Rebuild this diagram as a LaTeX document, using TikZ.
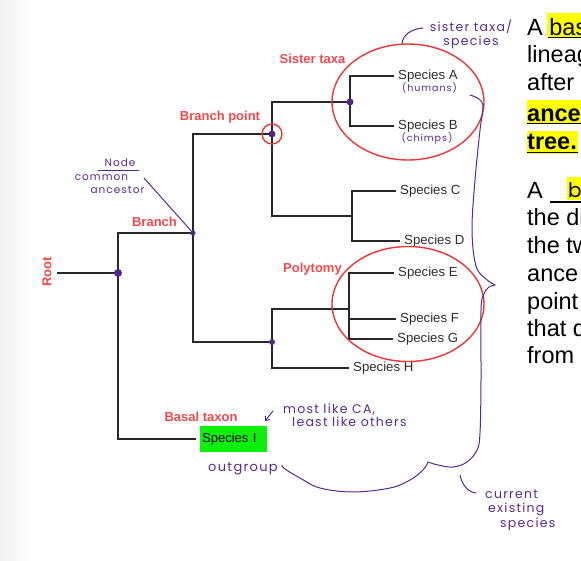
\documentclass[tikz,border=0pt]{standalone}
\usepackage{fontspec}
\setmainfont{Liberation Sans}
\newfontfamily\hand[LetterSpace=10]{Poppins}
\newfontfamily\handplain{Poppins}
\usetikzlibrary{shapes.geometric,arrows.meta}
\definecolor{labc}{RGB}{240,72,76}
\definecolor{ellc}{RGB}{238,52,52}
\definecolor{purp}{RGB}{84,42,150}
\definecolor{dotc}{RGB}{82,40,140}
\definecolor{treec}{RGB}{40,40,40}
\definecolor{spec}{RGB}{45,45,45}
\definecolor{hlc}{RGB}{255,255,0}
\definecolor{grn}{RGB}{10,240,10}
\begin{document}
\begin{tikzpicture}[x=1pt,y=-1pt,
  br/.style={draw=treec, line width=1.3pt},
  sp/.style={anchor=west, inner xsep=4pt, inner ysep=1pt, font=\fontsize{13.2}{15}\selectfont, text=spec},
  lab/.style={font=\bfseries\fontsize{13}{15}\selectfont, text=labc, inner sep=0},
  hw/.style={font=\hand\fontsize{12.5}{14}\selectfont, text=purp, inner sep=0},
  hws/.style={font=\hand\fontsize{10.5}{12.5}\selectfont, text=purp, inner sep=0},
  pen/.style={draw=purp, line width=1pt, line cap=round},
  jdot/.style={circle, fill=dotc, inner sep=0, minimum size=#1},
  redring/.style={draw=ellc, line width=1.4pt},
  big/.style={font=\fontsize{23.5}{27}\selectfont, text=black, anchor=base west, inner sep=0},
  bigb/.style={font=\bfseries\fontsize{23.5}{27}\selectfont, text=black, anchor=base west, inner sep=0}]
\useasboundingbox (0,0) rectangle (581,560);
\clip (0,0) rectangle (581,560);
\shade[left color=black!6, right color=white] (0,0) rectangle (32,560);

% junctions
\coordinate (root0) at (57,273);
\coordinate (rootN) at (118,273);
\coordinate (brN) at (193,233);
\coordinate (bpN) at (272,134);
\coordinate (sisN) at (350,102);
\coordinate (cdN) at (352,216);
\coordinate (lowN) at (272,342);
\coordinate (polN) at (349,309);

% leaves
\node[sp] (spA) at (394,76) {Species A};
\node[sp] (spB) at (394,126) {Species B};
\node[sp] (spC) at (396,191) {Species C};
\node[sp] (spD) at (400,241) {Species D};
\node[sp] (spE) at (394,273) {Species E};
\node[sp] (spF) at (396,319) {Species F};
\node[sp] (spG) at (393,339) {Species G};
\node[sp] (spH) at (349,368) {Species H};
\node[anchor=west, fill=grn, minimum height=26pt, text width=63pt, inner xsep=2pt, font=\fontsize{13}{15}\selectfont, text=black] (spI) at (200,439) {Species I};

% branches
\draw[br] (root0) -- (rootN);
\draw[br] (rootN) |- (brN);
\draw[br] (rootN) |- ([xshift=-4pt]spI.west);
\draw[br] (brN) |- (bpN);
\draw[br] (brN) |- (lowN);
\draw[br] (bpN) |- (sisN);
\draw[br] (bpN) |- (cdN);
\draw[br] (sisN) |- (spA.west);
\draw[br] (sisN) |- (spB.west);
\draw[br] (cdN) |- (spC.west);
\draw[br] (cdN) |- (spD.west);
\draw[br] (lowN) |- (polN);
\draw[br] (lowN) |- (spH.west);
\draw[br] (polN) |- (spE.west);
\draw[br] (polN) |- (spF.west);
\draw[br] (polN) |- (spG.west);

% dots
\node[jdot=8pt] at (rootN) {};
\node[jdot=5pt] at (brN) {};
\node[jdot=7pt] at (bpN) {};
\node[jdot=7pt] at (sisN) {};
\node[jdot=6pt] at (lowN) {};

% red rings
\node[ellipse, redring, minimum width=152pt, minimum height=116pt] (sisEll) at (408,102) {};
\node[ellipse, redring, minimum width=152pt, minimum height=115pt] (polEll) at (408,304) {};
\node[circle, redring, minimum size=20pt, inner sep=0] (bpRing) at (bpN) {};

% red labels
\node[lab] (lSis) at (312.5,59) {Sister taxa};
\node[lab] (lBp) at (220,117) {Branch point};
\node[lab] (lBr) at (154.5,222) {Branch};
\node[lab] (lPol) at (312.5,269) {Polytomy};
\node[lab] (lBas) at (201,417) {Basal taxon};
\node[lab, rotate=90] (lRoot) at (47,272) {Root};

% purple handwriting
\node[hw, align=center] (sisTxt) at (471,34) {sister taxa/\\species};
\coordinate (sisHook) at (423,28);
\draw[pen] ([xshift=-6pt]sisEll.north) .. controls (403,35) and (411,29) .. (sisHook);
\node[hws, font=\hand\fontsize{9.5}{11}\selectfont] (hum) at (429.5,88) {(humans)};
\node[hws, font=\hand\fontsize{9.5}{11}\selectfont] (chi) at (427,138) {(chimps)};

\node[hws] (nodeTxt) at (120,163) {Node};
\draw[pen] (98,170) -- (139,170);
\node[hws] (comTxt) at (101.5,178) {common};
\node[hws] (ancTxt) at (117.5,190) {ancestor};
\coordinate (nodeLine) at (144,178);
\draw[pen] (nodeLine) -- (brN);

\node[hw, anchor=west] (most1) at (283,410) {most like CA,};
\node[hw, anchor=west] (most2) at (292,422) {least like others};
\coordinate (arrS) at (273,411);
\coordinate (arrE) at (265,421);
\draw[pen, -{Straight Barb[length=3.5pt,width=6pt]}] (arrS) -- (arrE);

\node[hw, font=\hand\fontsize{13}{15}\selectfont] (outg) at (243,469) {outgroup};

\node[hw, anchor=west] (cur1) at (485,494) {current};
\node[hw, anchor=west] (cur2) at (488,509) {existing};
\node[hw, anchor=west] (cur3) at (500,524) {species};
\coordinate (curA) at (460,475);
\coordinate (curB) at (476,493);
\draw[pen] (curA) .. controls (462,485) and (468,492) .. (curB);

% big brace
\draw[pen, line join=round] plot[smooth, tension=0.6] coordinates {(470,95) (479,99) (483,107) (480,130) (475,180) (472,230) (476,266) (486,279) (495,285)};
\draw[pen, line join=round] plot[smooth, tension=0.6] coordinates {(495,285) (489,287) (484,294) (481,310) (481,380) (480,433) (477,450) (467,462) (453,467) (438,465) (428,462)};
\draw[pen, line join=round] plot[smooth, tension=0.6] coordinates {(428,462) (423,470) (410,480) (390,488) (353,492) (320,488) (300,478) (285,469) (282,465)};

% right-hand text (clipped at the page edge, as in the reference)
\fill[hlc] (547,13) rectangle (581,37);
\node[big] (t1) at (527,35) {A basal taxon};
\draw[black, line width=1.3pt] (548,37.5) -- (581,37.5);
\node[big] (t2) at (527,62) {lineage that};
\node[big] (t3) at (527,90) {after};
\fill[hlc] (527,100) rectangle (581,124);
\node[bigb] (t4) at (527,121) {ancestor of the};
\draw[black, line width=1.5pt] (527,123.5) -- (581,123.5);
\fill[hlc] (527,131) rectangle (578,154);
\node[bigb] (t5) at (527,149.5) {tree.};
\draw[black, line width=1.5pt] (527,152.5) -- (578,152.5);

\fill[hlc] (567,177) rectangle (581,200);
\node[big] (s1) at (527,198) {A};
\draw[black, line width=1.3pt] (550,202) -- (581,202);
\node[anchor=base west, inner sep=0, font=\handplain\fontsize{20}{22}\selectfont, text=black] (s1b) at (568,197) {branch};
\node[big] (s2) at (527,225.5) {the divergence};
\node[big] (s3) at (527,253) {the two};
\node[big] (s4) at (527,281) {ance};
\node[big] (s5) at (527,309) {point};
\node[big] (s6) at (527,336) {that diverge};
\node[big] (s7) at (527,363) {from};
\end{tikzpicture}
\end{document}
